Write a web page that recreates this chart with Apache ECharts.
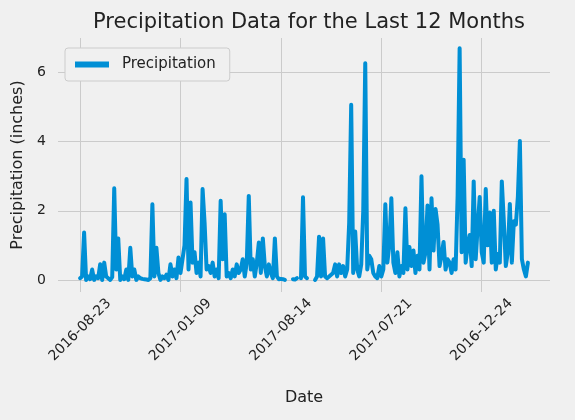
<!DOCTYPE html>
<html>
<head>
<meta charset="utf-8">
<style>
  body { margin: 0; background: #f0f0f0; }
  #container { width: 575px; height: 420px; }
</style>
</head>
<body>
<div id="container"></div>
<script src="https://cdn.jsdelivr.net/npm/echarts@6/dist/echarts.min.js"></script>
<script>
// precipitation values (one sample every ~10 rows of the original table)
var precip = [
  0.05,0.1,1.37,0,0.1,0.02,0.3,0,0.1,0.05,
  0.45,0,0.5,0.1,0.05,0,0.08,2.65,0.3,1.2,
  0,0.1,0.02,0.3,0,0.93,0.1,0.3,0,0.1,
  0.05,0.03,0.02,0.01,0,0.05,2.19,0.1,0.93,0.2,
  0,0.1,0.05,0.15,0,0.45,0.1,0.3,0.05,0.65,
  0.2,0.6,1.0,2.92,0.3,2.24,0.5,0.8,0.2,0.5,
  0.1,2.63,1.65,0.3,0.4,0.2,0.5,0.1,0.3,0.05,
  2.29,0.6,1.9,0.1,0.2,0.05,0.3,0.1,0.45,0.2,
  0.3,0.6,0.1,0.5,2.43,0.3,0.6,0.1,0.5,1.08,
  0.2,1.2,0.4,0.1,0.45,0.2,0.05,1.2,0.1,0.02,
  0.03,0.02,0,null,0.3,null,0.02,0.01,0.05,null,
  0.05,2.39,0.1,0.05,null,null,null,0,0.1,1.25,
  0.1,1.2,0.1,0.05,0.1,0.15,0.2,0.45,0.1,0.45,
  0.2,0.4,0.1,0.3,1.65,5.07,0.2,1.4,0.3,0.1,
  0.45,2.0,6.27,0.3,0.7,0.6,0.2,0.1,0.05,0.4,
  0.1,0.3,2.19,0.5,1.0,2.36,0.5,0.2,0.8,0.1,
  0.4,0.2,2.07,0.3,0.95,0.4,0.85,0.2,0.7,0.3,
  3.0,0.5,0.8,2.15,0.3,2.36,0.85,2.05,1.6,0.4,
  0.7,1.1,0.3,0.6,0.5,0.2,0.6,0.3,2.45,6.7,
  0.8,3.48,0.5,1.0,1.3,0.4,2.85,0.6,1.55,2.4,
  0.8,0.5,2.63,1.0,1.95,0.5,2.0,0.3,0.75,0.5,
  2.85,1.7,0.4,0.8,2.2,0.5,1.7,1.6,2.4,4.02,
  0.6,0.3,0.1,0.5
];
// tick labels every 50 samples
var tickDates = ['2016-08-23', '2017-01-09', '2017-08-14', '2017-07-21', '2016-12-24'];
var yTicks = [0, 2, 4, 6];

var pad = 11;
var cats = [];
var vals = [];
for (var i = -pad; i < precip.length + pad; i++) {
  cats.push(String(i));
  vals.push(i >= 0 && i < precip.length ? precip[i] : null);
}
function isTick(idx) {
  var k = idx - pad;
  return k >= 0 && k % 50 === 0 && k / 50 < tickDates.length;
}

var chart = echarts.init(document.getElementById('container'));
var font = 'DejaVu Sans';
chart.setOption({
  backgroundColor: '#f0f0f0',
  animation: false,
  textStyle: { fontFamily: font, color: '#222' },
  title: {
    text: 'Precipitation Data for the Last 12 Months',
    left: 304, top: 7, textAlign: 'center',
    textStyle: { fontFamily: font, fontSize: 21, fontWeight: 'normal', color: '#222' }
  },
  legend: {
    left: 65, top: 48, itemWidth: 34, itemHeight: 6, itemGap: 10,
    padding: [9, 14, 9, 10],
    backgroundColor: '#f0f0f0', borderColor: '#cccccc', borderWidth: 1, borderRadius: 3,
    icon: 'rect',
    textStyle: { fontFamily: font, fontSize: 15, color: '#222', padding: [0, 0, 0, 8] }
  },
  grid: { left: 58, right: 25, top: 38, bottom: 128 },
  xAxis: {
    type: 'category', data: cats, boundaryGap: false,
    name: 'Date', nameLocation: 'middle', nameGap: 98,
    nameTextStyle: { fontFamily: font, fontSize: 16, color: '#222' },
    axisLine: { show: false },
    axisTick: { show: false },
    axisLabel: {
      interval: isTick, rotate: 45, fontSize: 14, color: '#222', margin: 38,
      align: 'center', verticalAlign: 'middle',
      formatter: function (v) { return tickDates[(Number(v)) / 50]; }
    },
    splitLine: { show: true, interval: isTick, lineStyle: { color: '#cbcbcb', width: 1 } }
  },
  yAxis: {
    type: 'value', min: -0.35, max: 7.0,
    name: 'Precipitation (inches)', nameLocation: 'middle', nameGap: 30,
    nameTextStyle: { fontFamily: font, fontSize: 16, color: '#222' },
    axisLine: { show: false }, axisTick: { show: false },
    splitLine: { show: false },
    axisLabel: { customValues: yTicks, fontSize: 14, color: '#222', margin: 12 }
  },
  series: [{
    name: 'Precipitation', type: 'line', data: vals,
    showSymbol: false, connectNulls: false,
    color: '#008fd5',
    lineStyle: { width: 4, color: '#008fd5', join: 'round', cap: 'round' },
    markLine: {
      silent: true, symbol: 'none', label: { show: false },
      lineStyle: { color: '#cbcbcb', width: 1, type: 'solid' },
      data: yTicks.map(function (t) { return { yAxis: t }; }),
      z: 0
    }
  }]
});
</script>
</body>
</html>
